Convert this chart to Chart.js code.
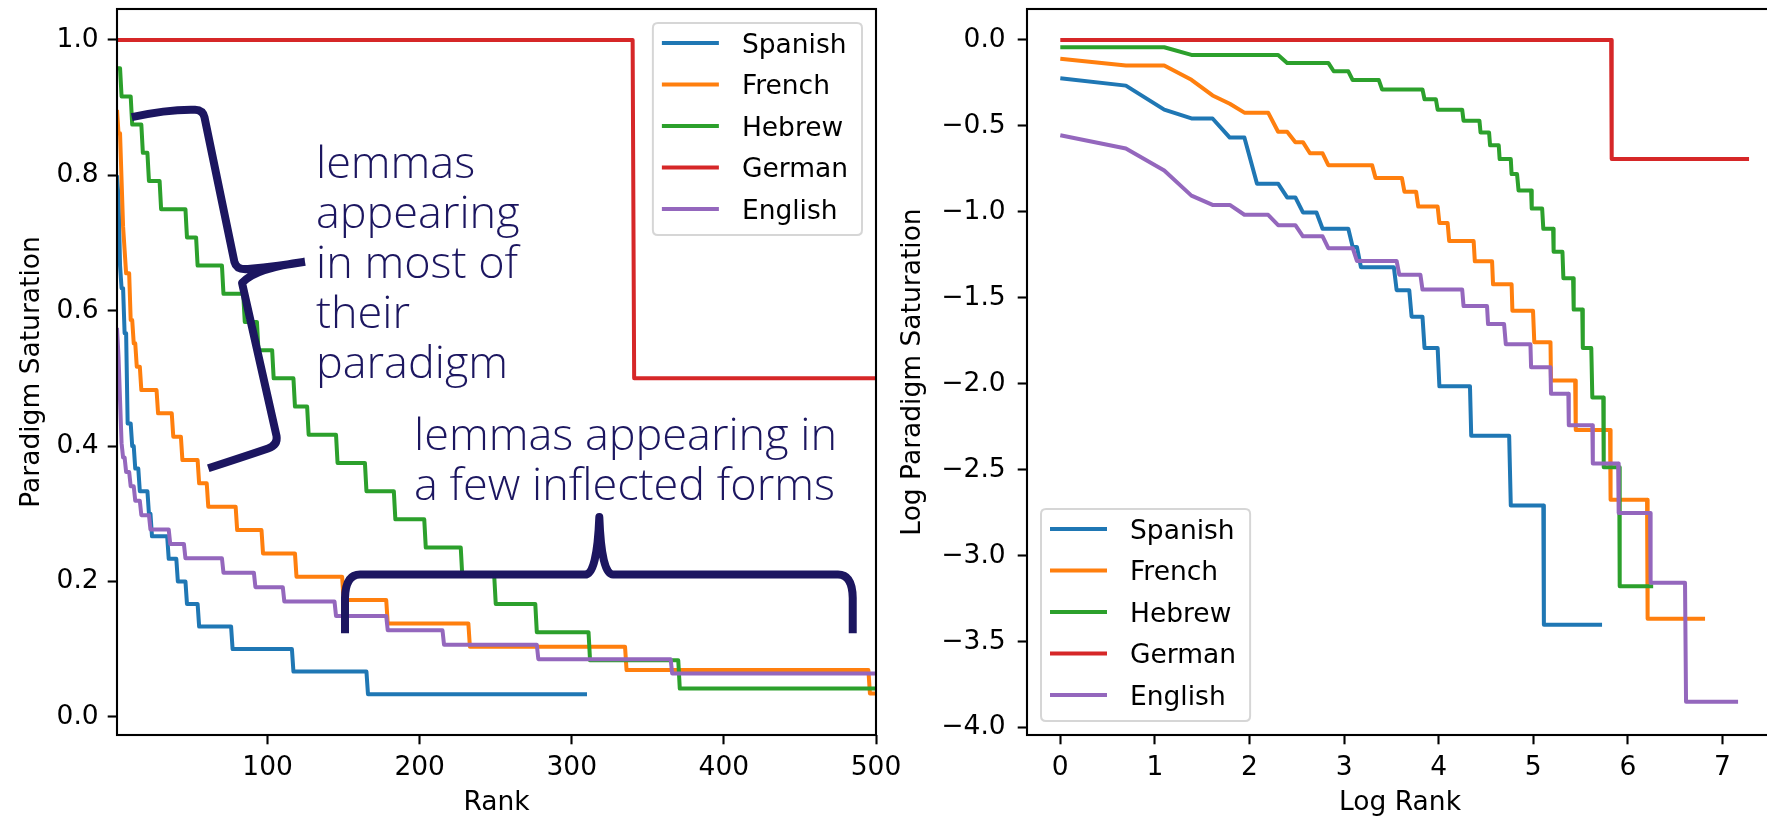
<!DOCTYPE html>
<html>
<head>
<meta charset="utf-8">
<title>Paradigm saturation by rank</title>
<script src="https://cdn.jsdelivr.net/npm/chart.js@4.4.1/dist/chart.umd.min.js"></script>
<style>
  html, body { margin: 0; padding: 0; background: #ffffff; }
  #stage { position: relative; width: 1767px; height: 820px; overflow: hidden; background: #ffffff; }
  #rankChart { position: absolute; left: 0; top: 0; }
  #logChart { position: absolute; left: 880px; top: 0; }
</style>
</head>
<body>
<div id="stage">
  <canvas id="rankChart" width="910" height="820"></canvas>
  <canvas id="logChart" width="895" height="820"></canvas>
</div>
<script>
// Languages in plotting order and their line colours
const languages = ['Spanish', 'French', 'Hebrew', 'German', 'English'];
const lineColors = ['#1f77b4', '#ff7f0e', '#2ca02c', '#d62728', '#9467bd'];

// For every language: the rank at which each saturation level begins and the
// number of paradigm cells attested at that level.
const spanishStartRank = [1, 2, 3, 4, 6, 8, 11, 13, 16, 22, 24, 35, 41, 47, 55, 77, 117, 166];
const spanishCells     = [24, 23, 20, 19, 17, 13, 12, 11, 10, 9, 8, 7, 6, 5, 4, 3, 2, 1];

const frenchStartRank = [1, 2, 4, 5, 6, 7, 10, 12, 14, 17, 28, 38, 44, 55, 61, 80, 97, 119, 150, 179, 233, 336, 496];
const frenchCells     = [26, 25, 23, 21, 20, 19, 17, 16, 15, 14, 13, 12, 11, 10, 9, 8, 7, 6, 5, 4, 3, 2, 1];

const hebrewStartRank = [1, 4, 11, 18, 22, 30, 47, 54, 71, 85, 94, 104, 118, 127, 146, 165, 184, 204, 228, 250, 277, 312, 371];
const hebrewCells     = [23, 22, 21, 20, 19, 18, 17, 16, 15, 14, 13, 12, 11, 10, 9, 8, 7, 6, 5, 4, 3, 2, 1];

const germanStartRank = [1, 341];
const germanCells     = [2, 1];

const englishStartRank = [1, 2, 3, 4, 5, 7, 10, 13, 17, 23, 36, 46, 71, 92, 111, 145, 179, 216, 278, 366, 514, 746];
const englishCells     = [27, 25, 22, 19, 18, 17, 16, 15, 14, 13, 12, 11, 10, 9, 8, 7, 6, 5, 4, 3, 2, 1];

// Paradigm size and number of ranked lemmas, per language (same order as above)
const paradigmSizes = [30, 29, 24, 2, 47];
const lastRanks = [310, 916, 528, 1466, 1295];

// Axis ticks
const rankTicks = [100, 200, 300, 400, 500];
const rankTickLabels = ['100', '200', '300', '400', '500'];
const saturationTicks = [0, 0.2, 0.4, 0.6, 0.8, 1.0];
const saturationTickLabels = ['0.0', '0.2', '0.4', '0.6', '0.8', '1.0'];
const logRankTicks = [0, 1, 2, 3, 4, 5, 6, 7];
const logRankTickLabels = ['0', '1', '2', '3', '4', '5', '6', '7'];
const logSaturationTicks = [0, -0.5, -1, -1.5, -2, -2.5, -3, -3.5, -4];
const logSaturationTickLabels = ['0.0', '\u22120.5', '\u22121.0', '\u22121.5', '\u22122.0', '\u22122.5', '\u22123.0', '\u22123.5', '\u22124.0'];

// Hand-drawn braces on the rank panel, as path commands in (rank, saturation) units
const braceMostForms = [
  ['M', 10.7, 0.886],
  ['Q', 34.5, 0.898, 52.3, 0.897],
  ['Q', 57.5, 0.8965, 58.5, 0.886],
  ['L', 78.2, 0.672],
  ['Q', 79.6, 0.660, 87.1, 0.6616],
  ['Q', 108.2, 0.666, 124.6, 0.6724],
  ['M', 124.6, 0.6724],
  ['Q', 91.7, 0.663, 83.2, 0.641],
  ['L', 105.9, 0.4148],
  ['Q', 106.8, 0.4015, 100.3, 0.3963],
  ['Q', 81.9, 0.3823, 61.0, 0.3671]
];
const braceFewForms = [
  ['M', 150.9, 0.1232],
  ['L', 150.9, 0.1754],
  ['Q', 151.2, 0.2101, 160.8, 0.2101],
  ['L', 308.7, 0.2101],
  ['Q', 316.6, 0.2101, 318.1, 0.2951],
  ['Q', 319.5, 0.2101, 327.1, 0.2101],
  ['L', 475.0, 0.2101],
  ['Q', 484.5, 0.2101, 484.7, 0.1754],
  ['L', 484.7, 0.1232]
];
const noteMostForms = ['lemmas', 'appearing', 'in most of', 'their', 'paradigm'];
const noteFewForms = ['lemmas appearing in', 'a few inflected forms'];
const noteMostAnchor = [131.8, 0.7956];
const noteFewAnchor = [196.3, 0.3941];

// ---------------------------------------------------------------------------

const TEXT_COLOR = '#000000';
const NOTE_COLOR = '#1c1660';
const AXIS_FONT = { family: "'DejaVu Sans', sans-serif", size: 26.5 };
const NOTE_FONT = '300 45px "Open Sans", sans-serif';

const startRanks = [spanishStartRank, frenchStartRank, hebrewStartRank, germanStartRank, englishStartRank];
const cellCounts = [spanishCells, frenchCells, hebrewCells, germanCells, englishCells];

// One saturation value per rank, stepping down at each level boundary
function rankProfile(starts, cells, size, lastRank) {
  const rows = [];
  let level = 0;
  for (let rank = 1; rank <= lastRank; rank++) {
    while (level + 1 < starts.length && rank >= starts[level + 1]) level++;
    rows.push([rank, cells[level] / size]);
  }
  return rows;
}

const profiles = languages.map((_, i) =>
  rankProfile(startRanks[i], cellCounts[i], paradigmSizes[i], lastRanks[i]));

function makeDatasets(transform) {
  return languages.map((name, i) => ({
    label: name,
    data: profiles[i].map(transform),
    borderColor: lineColors[i],
    backgroundColor: lineColors[i],
    borderWidth: 4,
    borderJoinStyle: 'round',
    pointRadius: 0,
    fill: false,
    tension: 0,
    clip: 0,
    order: languages.length - i
  }));
}

function axis({ min, max, ticks, labels, title, size, vertical, labelPad, titlePad }) {
  return {
    type: 'linear',
    min, max,
    bounds: 'data',
    afterBuildTicks: s => { s.ticks = ticks.map(v => ({ value: v })); },
    afterFit: s => {
      if (vertical) s.width = size; else s.height = size;
      // the plotting box is fixed by the layout padding, not by label overhang
      s.paddingTop = 0; s.paddingBottom = 0; s.paddingLeft = 0; s.paddingRight = 0;
    },
    ticks: {
      autoSkip: false, maxRotation: 0, minRotation: 0,
      padding: labelPad, color: TEXT_COLOR, font: AXIS_FONT,
      callback: (v, i) => labels[i]
    },
    grid: { drawOnChartArea: false, drawTicks: true, tickLength: 9.3, tickWidth: 2.1, tickColor: '#000000' },
    border: { display: false },
    title: { display: true, text: title, color: TEXT_COLOR, font: AXIS_FONT, padding: titlePad }
  };
}

// Full box around the plotting area
const frameBox = {
  id: 'frameBox',
  afterDatasetsDraw(chart) {
    const { ctx, chartArea: a } = chart;
    ctx.save();
    ctx.strokeStyle = '#000000';
    ctx.lineWidth = 2.1;
    ctx.strokeRect(a.left, a.top, a.right - a.left, a.bottom - a.top);
    ctx.restore();
  }
};

// Braces and notes drawn in data space
const braceNotes = {
  id: 'braceNotes',
  afterDatasetsDraw(chart, args, opts) {
    if (!opts || !opts.paths) return;
    const { ctx } = chart;
    const xs = chart.scales.x, ys = chart.scales.y;
    ctx.save();
    ctx.strokeStyle = opts.color;
    ctx.lineWidth = opts.lineWidth;
    ctx.lineJoin = 'round';
    ctx.lineCap = 'butt';
    for (const path of opts.paths) {
      ctx.beginPath();
      for (const cmd of path) {
        const op = cmd[0];
        const p = [];
        for (let k = 1; k < cmd.length; k += 2) {
          p.push(xs.getPixelForValue(cmd[k]), ys.getPixelForValue(cmd[k + 1]));
        }
        if (op === 'M') ctx.moveTo(p[0], p[1]);
        else if (op === 'L') ctx.lineTo(p[0], p[1]);
        else ctx.quadraticCurveTo(p[0], p[1], p[2], p[3]);
      }
      ctx.stroke();
    }
    ctx.fillStyle = opts.color;
    ctx.font = opts.font;
    ctx.textAlign = 'left';
    ctx.textBaseline = 'alphabetic';
    for (const note of opts.notes) {
      const x0 = xs.getPixelForValue(note.at[0]);
      const y0 = ys.getPixelForValue(note.at[1]);
      note.lines.forEach((line, k) => ctx.fillText(line, x0, y0 + k * opts.lineGap));
    }
    ctx.restore();
  }
};

// Boxed legend inside a corner of the plotting area
const boxLegend = {
  id: 'boxLegend',
  afterDraw(chart, args, opts) {
    const { ctx, chartArea: a } = chart;
    const sets = chart.data.datasets;
    ctx.save();
    ctx.font = `${AXIS_FONT.size}px ${AXIS_FONT.family}`;
    const textW = Math.max(...sets.map(d => ctx.measureText(d.label).width));
    const padL = 9, handle = 57, gap = 23, padR = 14, padTop = 20, padBottom = 26, row = 41.5;
    const w = padL + handle + gap + textW + padR;
    const h = padTop + row * (sets.length - 1) + padBottom;
    const inset = 14;
    const x0 = opts.corner === 'upper right' ? a.right - inset - w : a.left + inset;
    const y0 = opts.corner === 'upper right' ? a.top + inset : a.bottom - inset - h;
    const r = 5;
    ctx.beginPath();
    ctx.moveTo(x0 + r, y0);
    ctx.lineTo(x0 + w - r, y0);
    ctx.quadraticCurveTo(x0 + w, y0, x0 + w, y0 + r);
    ctx.lineTo(x0 + w, y0 + h - r);
    ctx.quadraticCurveTo(x0 + w, y0 + h, x0 + w - r, y0 + h);
    ctx.lineTo(x0 + r, y0 + h);
    ctx.quadraticCurveTo(x0, y0 + h, x0, y0 + h - r);
    ctx.lineTo(x0, y0 + r);
    ctx.quadraticCurveTo(x0, y0, x0 + r, y0);
    ctx.closePath();
    ctx.fillStyle = 'rgba(255,255,255,0.8)';
    ctx.fill();
    ctx.strokeStyle = 'rgba(204,204,204,0.8)';
    ctx.lineWidth = 2;
    ctx.stroke();
    const capHalf = AXIS_FONT.size * 0.729 / 2;
    sets.forEach((d, i) => {
      const y = y0 + padTop + i * row;
      ctx.strokeStyle = d.borderColor;
      ctx.lineWidth = 4;
      ctx.beginPath();
      ctx.moveTo(x0 + padL, y);
      ctx.lineTo(x0 + padL + handle, y);
      ctx.stroke();
      ctx.fillStyle = TEXT_COLOR;
      ctx.textAlign = 'left';
      ctx.textBaseline = 'alphabetic';
      ctx.fillText(d.label, x0 + padL + handle + gap, y + capHalf);
    });
    ctx.restore();
  }
};

function drawCharts() {
  new Chart(document.getElementById('rankChart'), {
    type: 'line',
    data: { datasets: makeDatasets(([r, v]) => ({ x: r, y: v })) },
    plugins: [frameBox, braceNotes, boxLegend],
    options: {
      responsive: false, animation: false, devicePixelRatio: 1, events: [],
      layout: { padding: { left: 0, right: 34, top: 9, bottom: 0 } },
      plugins: {
        legend: { display: false },
        tooltip: { enabled: false },
        boxLegend: { corner: 'upper right' },
        braceNotes: {
          color: NOTE_COLOR, lineWidth: 8, font: NOTE_FONT, lineGap: 50,
          paths: [braceMostForms, braceFewForms],
          notes: [
            { at: noteMostAnchor, lines: noteMostForms },
            { at: noteFewAnchor, lines: noteFewForms }
          ]
        }
      },
      scales: {
        x: axis({ min: 1, max: 500, ticks: rankTicks, labels: rankTickLabels, title: 'Rank',
                  size: 85, vertical: false, labelPad: 8, titlePad: { top: 0, bottom: 1 } }),
        y: axis({ min: -0.027, max: 1.0458, ticks: saturationTicks, labels: saturationTickLabels,
                  title: 'Paradigm Saturation', size: 117, vertical: true, labelPad: 9,
                  titlePad: { top: 16, bottom: 0 } })
      }
    }
  });

  new Chart(document.getElementById('logChart'), {
    type: 'line',
    data: { datasets: makeDatasets(([r, v]) => ({ x: Math.log(r), y: Math.log(v) })) },
    plugins: [frameBox, boxLegend],
    options: {
      responsive: false, animation: false, devicePixelRatio: 1, events: [],
      layout: { padding: { left: 0, right: 2, top: 9, bottom: 0 } },
      plugins: {
        legend: { display: false },
        tooltip: { enabled: false },
        boxLegend: { corner: 'lower left' }
      },
      scales: {
        x: axis({ min: -0.352, max: 7.534, ticks: logRankTicks, labels: logRankTickLabels, title: 'Log Rank',
                  size: 85, vertical: false, labelPad: 8, titlePad: { top: 0, bottom: 1 } }),
        y: axis({ min: -4.043, max: 0.18, ticks: logSaturationTicks, labels: logSaturationTickLabels,
                  title: 'Log Paradigm Saturation', size: 147, vertical: true, labelPad: 12,
                  titlePad: { top: 17, bottom: 0 } })
      }
    }
  });
}

const fontsReady = document.fonts && document.fonts.load
  ? Promise.all([
      document.fonts.load('26.5px "DejaVu Sans"'),
      document.fonts.load(NOTE_FONT)
    ]).catch(() => null)
  : Promise.resolve();
fontsReady.then(drawCharts);
</script>
</body>
</html>
